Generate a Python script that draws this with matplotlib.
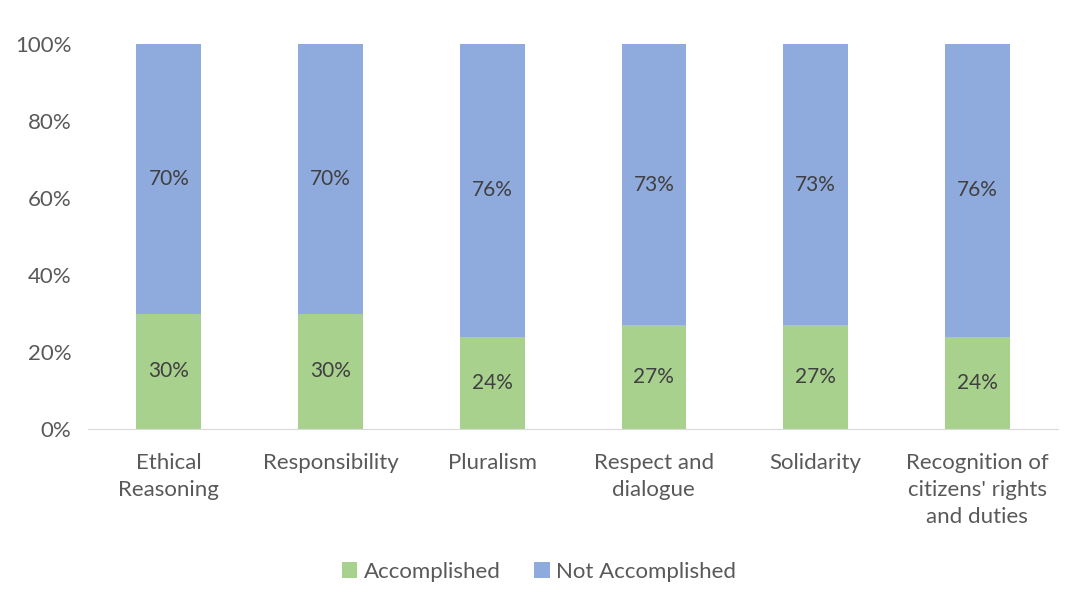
import matplotlib
matplotlib.use("Agg")
import matplotlib.pyplot as plt
import numpy as np

categories = ["Ethical\nReasoning", "Responsibility", "Pluralism", "Respect and\ndialogue",
              "Solidarity", "Recognition of\ncitizens' rights\nand duties"]
accomplished = [30, 30, 24, 27, 27, 24]
not_accomplished = [70, 70, 76, 73, 73, 76]
yticks = [0, 20, 40, 60, 80, 100]

plt.rcParams['font.family'] = ['Lato', 'DejaVu Sans']
fig = plt.figure(figsize=(10.78, 6.08), dpi=100)
ax = fig.add_axes([88/1078, 1-429/608, (1058-88)/1078, (429-44)/608])

x = np.arange(len(categories))
green = "#A9D18E"
blue = "#8FAADC"
w = 0.4
ax.bar(x, accomplished, w, color=green, label="Accomplished")
ax.bar(x, not_accomplished, w, bottom=accomplished, color=blue, label="Not Accomplished")

for i in range(len(x)):
    ax.text(x[i], accomplished[i]/2, f"{accomplished[i]}%", ha="center", va="center",
            fontsize=15, color="#404040")
    ax.text(x[i], accomplished[i] + not_accomplished[i]/2, f"{not_accomplished[i]}%",
            ha="center", va="center", fontsize=15, color="#404040")

ax.set_xlim(-0.5, len(categories)-0.5)
ax.set_ylim(0, 100)
ax.set_yticks(yticks)
ax.set_yticklabels([f"{t}%" for t in yticks], fontsize=16, color="#595959")
ax.set_xticks(x)
ax.set_xticklabels(categories, fontsize=16, color="#595959", linespacing=1.45)
ax.tick_params(axis='both', length=0)
ax.tick_params(axis='x', pad=17)
ax.tick_params(axis='y', pad=12)
for s in ["top", "right", "left"]:
    ax.spines[s].set_visible(False)
ax.spines["bottom"].set_color("#D9D9D9")

fig.legend(loc="center", bbox_to_anchor=(0.5, 1-572/608), ncol=2, frameon=False,
           fontsize=16, handlelength=0.7, handleheight=0.7, handletextpad=0.3,
           columnspacing=1.5, labelcolor="#595959")
fig.savefig("out.png", dpi=100)
